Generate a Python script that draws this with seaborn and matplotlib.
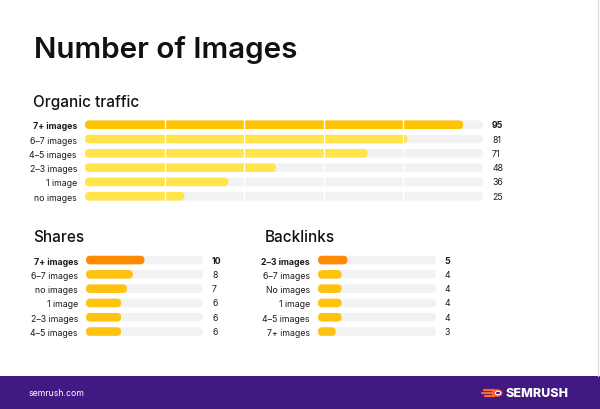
import matplotlib
matplotlib.use("Agg")
import matplotlib.pyplot as plt
import seaborn as sns
import pandas as pd
from matplotlib.patches import FancyBboxPatch, Rectangle, Circle
from matplotlib.lines import Line2D
from matplotlib.transforms import IdentityTransform

# ---------------- data ----------------
organic_labels = ["7+ images", "6–7 images", "4–5 images", "2–3 images", "1 image", "no images"]
organic_values = [95, 81, 71, 48, 36, 25]

shares_labels = ["7+ images", "6–7 images", "no images", "1 image", "2–3 images", "4–5 images"]
shares_values = [10, 8, 7, 6, 6, 6]

backlinks_labels = ["2–3 images", "6–7 images", "No images", "1 image", "4–5 images", "7+ images"]
backlinks_values = [5, 4, 4, 4, 4, 3]

organic_max = 100
small_max = 20
organic_grid = [20, 40, 60, 80]

# ---------------- style ----------------
sns.set_theme(style="white")
plt.rcParams["font.family"] = ["Inter", "DejaVu Sans"]

W, H = 600, 410
fig = plt.figure(figsize=(6, 4.1), dpi=100)
fig.patch.set_facecolor("white")

TRACK = "#F2F2F2"
TEXT = "#1A1A1A"


def px_axes(x0, x1, ytop, ybot):
    return fig.add_axes([x0 / W, 1 - ybot / H, (x1 - x0) / W, (ybot - ytop) / H])


def rounded(ax):
    """Replace seaborn's rectangles by pill-shaped patches (same extents)."""
    fig.canvas.draw()
    rects = [p for p in ax.patches if isinstance(p, Rectangle)]
    for p in rects:
        x, y = p.get_x(), p.get_y()
        w, h = p.get_width(), p.get_height()
        if w <= 0:
            p.remove()
            continue
        (dx0, dy0), (dx1, dy1) = ax.transData.transform([(x, y), (x + w, y + h)])
        X0, X1 = min(dx0, dx1), max(dx0, dx1)
        Y0, Y1 = min(dy0, dy1), max(dy0, dy1)
        r = (Y1 - Y0) / 2
        fb = FancyBboxPatch((X0, Y0), X1 - X0, Y1 - Y0,
                            boxstyle=f"round,pad=0,rounding_size={r}",
                            transform=IdentityTransform(),
                            facecolor=p.get_facecolor(), edgecolor="none",
                            zorder=p.get_zorder(), linewidth=0, clip_on=False)
        p.remove()
        ax.add_artist(fb)


def panel(ax, labels, values, vmax, hi_color, lo_color, grid=None, val_off=6.5):
    df = pd.DataFrame({"label": labels, "value": values,
                       "track": [vmax] * len(values)})
    sns.barplot(data=df, y="label", x="track", color=TRACK, width=0.6,
                ax=ax, zorder=1, saturation=1)
    pal = {lab: (hi_color if i == 0 else lo_color) for i, lab in enumerate(labels)}
    sns.barplot(data=df, y="label", x="value", hue="label", palette=pal,
                width=0.6, ax=ax, zorder=2, legend=False, saturation=1, dodge=False)
    ax.set_xlim(0, vmax)
    ax.set_ylim(len(labels) - 0.5, -0.5)
    ax.set_xlabel("")
    ax.set_ylabel("")
    ax.set_xticks([])
    for s in ax.spines.values():
        s.set_visible(False)
    ax.set_facecolor("none")
    ax.tick_params(axis="y", length=0, pad=5.8, labelsize=6.3, labelcolor=TEXT)
    for i, t in enumerate(ax.get_yticklabels()):
        if i == 0:
            t.set_fontweight("bold")
    rounded(ax)
    if grid:
        for g in grid:
            ax.axvline(g, color="white", lw=1.0, zorder=3)
    for i, v in enumerate(values):
        ax.annotate(str(v), xy=(vmax, i), xytext=(val_off, 0),
                    textcoords="offset points", va="center", ha="left",
                    fontsize=6.3, color=TEXT,
                    fontweight="bold" if i == 0 else "normal",
                    annotation_clip=False)


# organic traffic
ax1 = px_axes(85, 483, 118.6, 204.4)
panel(ax1, organic_labels, organic_values, organic_max, "#FFC300", "#FFE44A",
      grid=organic_grid, val_off=6.5)

# shares
ax2 = px_axes(86, 203, 253.9, 339.7)
panel(ax2, shares_labels, shares_values, small_max, "#FF8A00", "#FFC20E", val_off=6.5)

# backlinks
ax3 = px_axes(318, 436, 253.9, 339.7)
panel(ax3, backlinks_labels, backlinks_values, small_max, "#FF8A00", "#FFC20E", val_off=6)

# ---------------- texts ----------------
fig.text(34 / W, 1 - 50 / H, "Number of Images", fontsize=21.3, fontweight="semibold",
         color="#111111", va="center", ha="left")
fig.text(33 / W, 1 - 102 / H, "Organic traffic", fontsize=11, color="#111111",
         va="center", ha="left", fontweight="medium")
fig.text(33 / W, 1 - 238 / H, "Shares", fontsize=11, color="#111111",
         va="center", ha="left", fontweight="medium")
fig.text(265 / W, 1 - 238 / H, "Backlinks", fontsize=11, color="#111111",
         va="center", ha="left", fontweight="medium")

# right border
fig.add_artist(Line2D([597.5 / W, 597.5 / W], [1 - 377 / H, 1], color="#DDDDDD", lw=1))

# footer
fig.add_artist(Rectangle((0, 0), 1, 33 / H, transform=fig.transFigure,
                         facecolor="#421983", edgecolor="none"))
fig.text(29 / W, 1 - 394 / H, "semrush.com", fontsize=6.3, color="white",
         va="center", ha="left")
# logo
fig.add_artist(Circle((497 / W, 1 - 394 / H), 5.5 / W, transform=fig.transFigure,
                      facecolor="#FF642D", edgecolor="none"))
for dy, x0 in [(-3, 484), (0, 482), (3, 485)]:
    fig.add_artist(Line2D([x0 / W, 494 / W], [1 - (394 + dy) / H] * 2,
                          color="#FF642D", lw=1.6, solid_capstyle="round"))
fig.add_artist(Circle((498 / W, 1 - 394 / H), 2.6 / W, transform=fig.transFigure,
                      facecolor="#421983", edgecolor="white", lw=0.8))
fig.text(505 / W, 1 - 394 / H, "SEMRUSH", fontsize=9, color="white",
         va="center", ha="left", fontweight="heavy")

fig.savefig("out.png", dpi=100, facecolor="white")
